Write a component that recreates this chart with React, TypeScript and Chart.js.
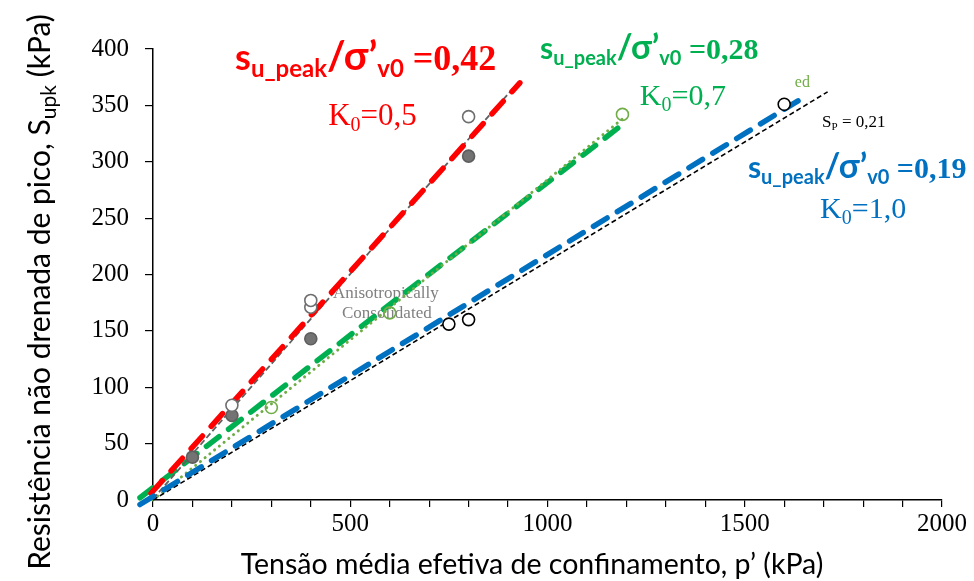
import React, { useEffect, useRef } from "react";
import { Chart, registerables } from "chart.js";

Chart.register(...registerables);

// ---------- data ----------
const xTickLabels = [0, 500, 1000, 1500, 2000];
const yTickLabels = [0, 50, 100, 150, 200, 250, 300, 350, 400];

// fitted / reference lines (p', s_u)
const redLineX = [-5, 930];
const redLineY = [6, 370];
const grayLineX = [0, 930];
const grayLineY = [1, 372];
const greenLineX = [-33, 1190];
const greenLineY = [2, 333];
const lightGreenLineX = [0, 1190];
const lightGreenLineY = [0, 338];
const blueLineX = [-33, 1649];
const blueLineY = [-4, 357];
const blackLineX = [0, 1710];
const blackLineY = [0, 362];

// test points
const grayOpenX = [200, 400, 400, 800];
const grayOpenY = [84, 171, 177, 340];
const grayFilledX = [100, 200, 400, 800];
const grayFilledY = [38, 75, 143, 305];
const blackOpenX = [750, 800, 1600];
const blackOpenY = [156, 160, 351];
const greenOpenX = [300, 600, 1190];
const greenOpenY = [82, 166, 342];

const SANS = "Lato, 'Open Sans', 'DejaVu Sans', sans-serif";
const SERIF = "'Liberation Serif', 'Times New Roman', serif";

const pts = (xs: number[], ys: number[]) => xs.map((x, i) => ({ x, y: ys[i] }));

type Run = { t: string; f: string; dy?: number };
type Annot = { x: number; y: number; color: string; runs: Run[]; layer: "back" | "front" };

const formula = (size: number, sub: number, slash: number, dy: number, val: string): Run[] => [
  { t: "s", f: `bold ${size}px ${SANS}` },
  { t: "u_peak", f: `bold ${sub}px ${SANS}`, dy },
  { t: "/σ’", f: `bold ${slash}px ${SANS}` },
  { t: "v0", f: `bold ${sub}px ${SANS}`, dy },
  { t: " =" + val, f: `bold ${size}px ${SERIF}` },
];
const kText = (size: number, sub: number, dy: number, val: string): Run[] => [
  { t: "K", f: `${size}px ${SERIF}` },
  { t: "0", f: `${sub}px ${SERIF}`, dy },
  { t: "=" + val, f: `${size}px ${SERIF}` },
];

const annotations: Annot[] = [
  { x: 208, y: 381, color: "#FF0000", runs: formula(36, 24, 40, 7, "0,42"), layer: "front" },
  { x: 444, y: 333, color: "#FF0000", runs: kText(31, 20, 6, "0,5"), layer: "front" },
  { x: 981, y: 391, color: "#00B050", runs: formula(30, 20, 34, 6, "0,28"), layer: "front" },
  { x: 1234, y: 350, color: "#00B050", runs: kText(30, 20, 6, "0,7"), layer: "front" },
  { x: 1627, y: 366, color: "#70AD47", runs: [{ t: "ed", f: `16px ${SERIF}` }], layer: "back" },
  {
    x: 1696,
    y: 331,
    color: "#000000",
    runs: [
      { t: "S", f: `17px ${SERIF}` },
      { t: "P", f: `11px ${SERIF}`, dy: 3 },
      { t: " = 0,21", f: `17px ${SERIF}` },
    ],
    layer: "front",
  },
  { x: 1508, y: 286, color: "#0070C0", runs: formula(30, 20, 34, 6, "0,19"), layer: "front" },
  { x: 1691, y: 250, color: "#0070C0", runs: kText(30, 20, 6, "1,0"), layer: "front" },
  { x: 456, y: 179, color: "#808080", runs: [{ t: "Anisotropically", f: `17px ${SERIF}` }], layer: "back" },
  { x: 479, y: 161, color: "#808080", runs: [{ t: "Consolidated", f: `17px ${SERIF}` }], layer: "back" },
];

const drawRuns = (ctx: CanvasRenderingContext2D, x: number, y: number, runs: Run[], color: string) => {
  let cx = x;
  ctx.fillStyle = color;
  ctx.textBaseline = "alphabetic";
  ctx.textAlign = "left";
  for (const r of runs) {
    ctx.font = r.f;
    ctx.fillText(r.t, cx, y + (r.dy || 0));
    cx += ctx.measureText(r.t).width;
  }
  return cx - x;
};

const measureRuns = (ctx: CanvasRenderingContext2D, runs: Run[]) => {
  let w = 0;
  for (const r of runs) {
    ctx.font = r.f;
    w += ctx.measureText(r.t).width;
  }
  return w;
};

const textPlugin = {
  id: "textPlugin",
  beforeDatasetsDraw(chart: any) {
    const { ctx, scales } = chart;
    ctx.save();
    for (const a of annotations.filter((a) => a.layer === "back")) {
      drawRuns(ctx, scales.x.getPixelForValue(a.x), scales.y.getPixelForValue(a.y), a.runs, a.color);
    }
    ctx.restore();
  },
  afterDatasetsDraw(chart: any) {
    const { ctx, scales } = chart;
    ctx.save();
    for (const a of annotations.filter((a) => a.layer === "front")) {
      drawRuns(ctx, scales.x.getPixelForValue(a.x), scales.y.getPixelForValue(a.y), a.runs, a.color);
    }
    ctx.restore();
  },
  afterDraw(chart: any) {
    const { ctx } = chart;
    ctx.save();
    // x title
    const xRuns: Run[] = [{ t: "Tensão média efetiva de confinamento, p’ (kPa)", f: `28.5px ${SANS}` }];
    const xw = measureRuns(ctx, xRuns);
    drawRuns(ctx, 532 - xw / 2, 574, xRuns, "#000");
    // y title (rotated)
    const yRuns: Run[] = [
      { t: "Resistência não drenada de pico, S", f: `30px ${SANS}` },
      { t: "upk", f: `21px ${SANS}`, dy: 6 },
      { t: " (kPa)", f: `30px ${SANS}` },
    ];
    const yw = measureRuns(ctx, yRuns);
    ctx.translate(50, 292);
    ctx.rotate(-Math.PI / 2);
    drawRuns(ctx, -yw / 2, 0, yRuns, "#000");
    ctx.restore();
  },
};

export default function App() {
  const canvasRef = useRef<HTMLCanvasElement | null>(null);

  useEffect(() => {
    if (!canvasRef.current) return;
    const lineDs = (xs: number[], ys: number[], color: string, width: number, dash: number[], cap: any = "round") => ({
      type: "scatter" as const,
      data: pts(xs, ys),
      showLine: true,
      borderColor: color,
      borderWidth: width,
      borderDash: dash,
      borderCapStyle: cap,
      pointRadius: 0,
      fill: false,
      clip: false as any,
    });
    const markerDs = (xs: number[], ys: number[], border: string, bg: string) => ({
      type: "scatter" as const,
      data: pts(xs, ys),
      showLine: false,
      pointRadius: 6,
      pointBorderWidth: 1.6,
      pointBorderColor: border,
      pointBackgroundColor: bg,
      clip: false as any,
    });

    const chart = new Chart(canvasRef.current, {
      type: "scatter",
      data: {
        datasets: [
          markerDs(blackOpenX, blackOpenY, "#000000", "#FFFFFF"),
          markerDs(grayOpenX, grayOpenY, "#6E6E6E", "#FFFFFF"),
          markerDs(grayFilledX, grayFilledY, "#5E5E5E", "#737373"),
          markerDs(greenOpenX, greenOpenY, "#70AD47", "rgba(255,255,255,0)"),
          lineDs(blueLineX, blueLineY, "#0070C0", 5.5, [16, 12]),
          lineDs(blackLineX, blackLineY, "#000000", 1.6, [5, 3], "butt"),
          lineDs(redLineX, redLineY, "#FF0000", 5.5, [17, 13]),
          lineDs(grayLineX, grayLineY, "#606060", 1.8, [6, 3], "butt"),
          lineDs(lightGreenLineX, lightGreenLineY, "#70AD47", 3, [0.1, 6]),
          lineDs(greenLineX, greenLineY, "#00B050", 5.5, [16, 12]),
        ] as any,
      },
      options: {
        animation: false,
        responsive: true,
        maintainAspectRatio: false,
        devicePixelRatio: 1,
        layout: { padding: { top: 49, right: 32, left: 0, bottom: 0 } },
        plugins: { legend: { display: false }, tooltip: { enabled: false } },
        scales: {
          x: {
            type: "linear",
            min: 0,
            max: 2000,
            afterBuildTicks: (scale: any) => {
              const t = [];
              for (let v = 0; v <= 2000; v += 100) t.push({ value: v });
              scale.ticks = t;
            },
            ticks: {
              autoSkip: false,
              maxRotation: 0,
              padding: 2,
              color: "#000",
              font: { family: SERIF, size: 25 },
              callback: (v: any) => (xTickLabels.includes(Number(v)) ? String(v) : ""),
            },
            grid: { display: true, drawOnChartArea: false, drawTicks: true, tickLength: 7, color: "#000", lineWidth: 1.2 },
            border: { display: true, color: "#000", width: 1.5 },
            afterFit: (s: any) => {
              s.height = 81;
            },
          },
          y: {
            type: "linear",
            min: 0,
            max: 400,
            afterBuildTicks: (scale: any) => {
              scale.ticks = yTickLabels.map((v) => ({ value: v }));
            },
            ticks: {
              autoSkip: false,
              padding: 16,
              color: "#000",
              font: { family: SERIF, size: 25 },
              callback: (v: any) => String(v),
            },
            grid: { display: true, drawOnChartArea: false, drawTicks: true, tickLength: 8, color: "#000", lineWidth: 1.2 },
            border: { display: true, color: "#000", width: 1.5 },
            afterFit: (s: any) => {
              s.width = 153;
            },
          },
        },
      } as any,
      plugins: [textPlugin],
    });
    return () => chart.destroy();
  }, []);

  return (
    <div style={{ position: "fixed", left: 0, top: 0, width: 974, height: 581, background: "#fff" }}>
      <canvas ref={canvasRef} />
    </div>
  );
}
